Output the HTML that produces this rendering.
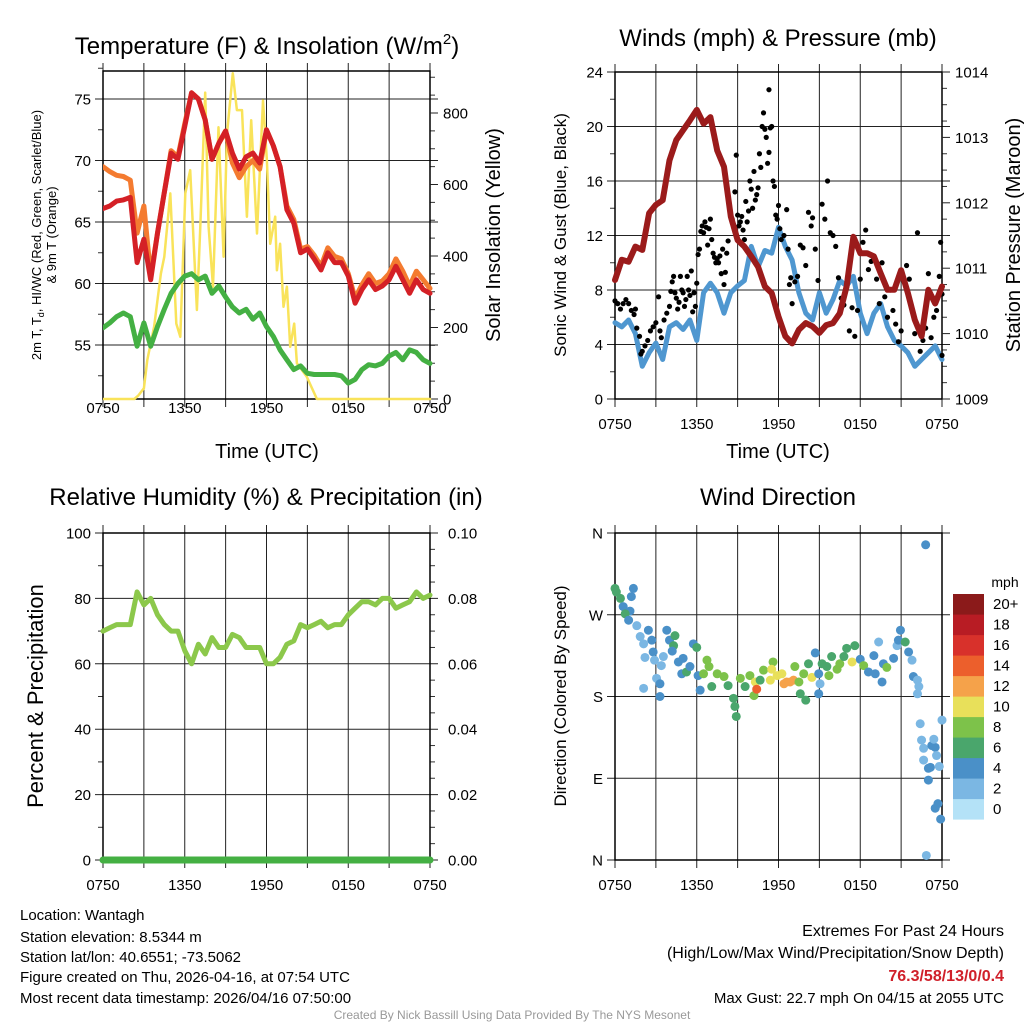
<!DOCTYPE html>
<html><head><meta charset="utf-8"><style>
html,body{margin:0;padding:0;background:#fff;}
svg{display:block;font-family:"Liberation Sans",Arial,sans-serif;}
</style></head><body>
<svg id="chart" width="1024" height="1024" viewBox="0 0 1024 1024" xmlns="http://www.w3.org/2000/svg">
<g id="p1"></g>
<g id="p2"></g>
<g id="p3"></g>
<g id="p4"></g>
<text x="267" y="54" font-size="24" text-anchor="middle">Temperature (F) &amp; Insolation (W/m<tspan font-size="15" dy="-10">2</tspan><tspan dy="10">)</tspan></text>
<text x="778" y="46" font-size="24" text-anchor="middle">Winds (mph) &amp; Pressure (mb)</text>
<text x="266" y="505" font-size="24" text-anchor="middle">Relative Humidity (%) &amp; Precipitation (in)</text>
<text x="778" y="505" font-size="24" text-anchor="middle">Wind Direction</text>
<text x="267" y="458" font-size="20" text-anchor="middle">Time (UTC)</text>
<text x="778" y="458" font-size="20" text-anchor="middle">Time (UTC)</text>
<text transform="translate(41,235) rotate(-90)" font-size="13" text-anchor="middle">2m T, T<tspan font-size="9" dy="3">d</tspan><tspan dy="-3">, HI/WC (Red, Green, Scarlet/Blue)</tspan></text>
<text transform="translate(56,235) rotate(-90)" font-size="13" text-anchor="middle">&amp; 9m T (Orange)</text>
<text transform="translate(500,235) rotate(-90)" font-size="20" text-anchor="middle">Solar Insolation (Yellow)</text>
<text transform="translate(566,235) rotate(-90)" font-size="17" text-anchor="middle">Sonic Wind &amp; Gust (Blue, Black)</text>
<text transform="translate(1020,235) rotate(-90)" font-size="20" text-anchor="middle">Station Pressure (Maroon)</text>
<text transform="translate(43,696) rotate(-90)" font-size="22" text-anchor="middle">Percent &amp; Precipitation</text>
<text transform="translate(566,696) rotate(-90)" font-size="17" text-anchor="middle">Direction (Colored By Speed)</text>
<g font-size="15">
<text x="20" y="920">Location: Wantagh</text>
<text x="20" y="942">Station elevation: 8.5344 m</text>
<text x="20" y="962">Station lat/lon: 40.6551; -73.5062</text>
<text x="20" y="982">Figure created on Thu, 2026-04-16, at 07:54 UTC</text>
<text x="20" y="1003">Most recent data timestamp: 2026/04/16 07:50:00</text>
</g>
<g font-size="16" text-anchor="end">
<text x="1004" y="936">Extremes For Past 24 Hours</text>
<text x="1004" y="958">(High/Low/Max Wind/Precipitation/Snow Depth)</text>
<text x="1004" y="981" font-weight="bold" fill="#d0202a">76.3/58/13/0/0.4</text>
<text x="1004" y="1003" font-size="15">Max Gust: 22.7 mph On 04/15 at 2055 UTC</text>
</g>
<text x="512" y="1019" font-size="12" fill="#999" text-anchor="middle">Created By Nick Bassill Using Data Provided By The NYS Mesonet</text>
</svg>
<script>
const halfHours=[0,0.5,1,1.5,2,2.5,3,3.5,4,4.5,5,5.5,6,6.5,7,7.5,8,8.5,9,9.5,10,10.5,11,11.5,12,12.5,13,13.5,14,14.5,15,15.5,16,16.5,17,17.5,18,18.5,19,19.5,20,20.5,21,21.5,22,22.5,23,23.5,24];
const xTickLabels=["0750","1350","1950","0150","0750"];
const tempRed=[66.1,66.3,66.7,66.8,67.0,61.7,63.6,60.3,64.1,67.4,70.6,70.1,72.8,75.5,75.0,73.3,70.1,71.4,72.4,70.6,69.3,70.3,70.6,69.8,72.5,71.2,69.5,66.0,64.9,62.5,62.8,62.0,61.1,62.5,61.7,61.7,60.6,58.4,59.5,60.3,59.5,59.8,60.3,61.4,60.3,59.2,60.3,59.5,59.2];
const temp9m=[69.5,69.1,68.8,68.7,68.4,64.1,66.3,60.6,64.1,67.4,70.8,70.3,73.0,75.5,75.0,73.3,70.1,71.4,72.4,69.8,68.6,69.5,70.0,69.3,72.5,71.2,69.5,66.3,65.2,62.8,63.0,62.3,61.4,62.9,62.2,62.0,60.8,58.8,59.9,60.8,60.0,60.2,60.8,62.0,61.0,59.8,61.0,60.3,59.6];
const dewpoint=[56.4,56.8,57.3,57.6,57.3,54.9,56.8,54.9,56.5,57.9,59.2,60.0,60.6,60.8,60.3,60.6,59.2,59.8,58.9,58.1,57.6,57.9,57.1,57.6,56.5,55.7,54.6,53.8,53.0,53.3,52.7,52.6,52.6,52.6,52.6,52.5,51.9,52.2,53.0,53.4,53.3,53.5,54.1,54.4,53.8,54.6,54.4,53.8,53.5];
const solarHours=[0,2.3,2.6,3,3.25,3.5,3.75,4,4.25,4.5,4.94,5.38,5.67,6.04,6.4,6.89,7.14,7.5,7.75,8.07,8.48,8.85,9.1,9.53,9.83,10.2,10.56,10.88,11.3,11.74,12.03,12.27,12.64,12.76,13,13.25,13.5,13.74,14.03,14.23,14.96,15.7,24];
const solarVals=[0,0,10,30,109,156,202,277,351,398,575,211,174,575,640,249,482,857,482,314,760,398,742,911,808,808,510,780,463,835,667,434,510,360,434,258,314,146,211,100,62,0,0];
const tempTicks=[55,60,65,70,75];
const solarTicks=[0,200,400,600,800];
const windSpeed=[5.6,5.3,5.8,4.8,2.4,3.4,4.1,2.9,5.3,5.6,5.1,5.8,4.3,7.8,8.5,7.8,6.3,7.8,8.3,8.7,11.2,9.7,10.9,10.7,12.6,11.2,10.2,7.8,6.3,5.8,7.8,6.3,7.3,8.7,8.3,9.0,6.3,4.8,6.3,7.0,5.3,4.3,3.9,3.4,2.4,2.9,3.4,3.9,2.9];
const pressure=[1010.82,1011.13,1011.10,1011.33,1011.28,1011.84,1011.97,1012.04,1012.65,1012.96,1013.11,1013.26,1013.42,1013.21,1013.31,1012.80,1012.55,1011.79,1011.43,1011.33,1011.18,1011.02,1010.72,1010.62,1010.26,1009.96,1009.85,1010.06,1010.16,1010.11,1010.01,1010.13,1010.16,1010.31,1010.72,1011.48,1011.23,1011.23,1011.18,1010.92,1010.67,1010.67,1010.97,1010.62,1010.21,1009.96,1010.67,1010.46,1010.72];
const gustHours=[0,0.2,0.4,0.6,0.8,1,1.2,1.4,1.5,1.6,1.8,1.9,2.0,2.2,2.4,2.6,2.8,3.0,3.2,3.3,3.4,3.6,3.8,4.0,4.1,4.2,4.3,4.4,4.5,4.6,4.7,4.8,4.9,5.0,5.1,5.2,5.3,5.4,5.5,5.6,5.7,5.8,5.9,6.0,6.1,6.2,6.3,6.4,6.5,6.6,6.7,6.8,6.9,7.0,7.1,7.2,7.3,7.4,7.5,7.6,7.7,7.8,7.9,8.0,8.1,8.2,8.3,8.5,8.6,8.7,8.8,8.9,9.0,9.1,9.2,9.3,9.4,9.5,9.6,9.7,9.8,9.9,10.0,10.1,10.2,10.3,10.4,10.5,10.6,10.7,10.8,10.9,11.0,11.1,11.2,11.3,11.3,11.4,11.5,11.6,11.7,11.8,11.9,12.0,12.1,12.2,12.4,12.6,12.7,12.8,12.9,13.0,13.2,13.4,13.6,13.8,14.0,14.2,14.4,14.5,14.7,14.9,15.2,15.4,15.6,15.8,16.0,16.2,16.4,16.6,16.8,17.0,17.2,17.4,17.6,17.8,18.0,18.2,18.4,18.6,18.8,19.0,19.2,19.4,19.6,19.8,20.0,20.2,20.4,20.6,20.8,21.0,21.4,21.6,22.0,22.2,22.4,22.6,22.8,23.0,23.2,23.4,23.6,23.8,23.9,24.0,24.0];
const gustVals=[7.2,7.0,6.6,7.0,7.3,7.0,6.5,6.2,6.6,5.2,4.6,3.3,3.5,3.9,4.3,5.0,5.3,5.6,7.5,5.0,4.5,5.8,6.3,6.8,7.9,8.6,9.0,7.8,7.4,6.6,7.1,9.0,8.0,7.8,6.8,7.3,9.0,8.0,7.6,9.4,6.4,7.8,6.8,8.5,10.6,11.0,12.3,12.7,12.2,13.0,12.6,11.3,12.5,13.2,11.7,10.7,10.4,10.0,10.3,10.0,10.5,9.2,11.0,8.4,9.3,10.7,11.6,13.4,13.2,12.8,15.2,17.9,13.5,12.7,13.0,13.4,12.4,11.7,14.5,13.0,13.8,16.0,15.4,14.0,16.7,14.6,15.0,15.5,18.0,17.0,20.0,21.0,19.8,19.2,17.3,18.1,22.7,19.9,20.0,16.0,15.6,13.5,13.2,14.2,12.5,11.7,12.0,13.9,11.0,8.4,8.9,7.0,8.6,9.0,11.3,11.1,9.8,13.7,12.7,13.3,11.0,8.7,14.3,13.2,16.0,12.2,12.0,11.2,8.9,7.4,6.9,8.3,5.0,6.7,4.6,6.5,8.8,11.5,12.4,9.5,10.1,10.3,8.8,7.0,10.0,7.5,6.0,8.0,6.5,5.5,4.2,5.0,9.8,8.8,4.8,12.2,3.5,4.3,5.2,9.2,4.5,6.0,6.5,9.0,11.5,7.7,3.2];
const windTicks=[0,4,8,12,16,20,24];
const pressureTicks=[1009,1010,1011,1012,1013,1014];
const humidity=[70,71,72,72,72,82,78,80,75,72,70,70,64,60,66,63,68,65,65,69,68,65,65,65,60,60,62,66,67,72,71,72,73,71,72,72,75,77,79,79,78,80,80,77,78,79,82,80,81];
const precip=[0,0,0,0,0,0,0,0,0,0,0,0,0,0,0,0,0,0,0,0,0,0,0,0,0,0,0,0,0,0,0,0,0,0,0,0,0,0,0,0,0,0,0,0,0,0,0,0,0];
const rhTicks=[0,20,40,60,80,100];
const precipTickLabels=["0.00","0.02","0.04","0.06","0.08","0.10"];
const dirHours=[0,0.1,0.4,1.35,1.2,0.6,1.1,0.75,1.0,1.6,1.85,2.1,2.45,2.7,2.8,2.2,2.9,3.05,3.3,2.1,3.3,3.4,3.55,3.8,4.0,4.3,4.4,4.2,4.65,5.0,4.9,5.25,5.5,5.75,6.0,6.1,6.25,6.5,6.75,6.9,7.1,7.5,8.0,8.3,8.7,8.8,8.9,9.2,9.55,9.9,10.2,10.3,10.4,10.65,10.9,11.4,11.6,11.5,11.9,12.25,12.4,12.6,12.85,13.1,13.2,13.5,13.6,14.0,13.85,14.2,14.45,14.7,14.95,14.95,15.05,15.2,15.55,15.7,15.9,16.3,16.5,16.8,17.0,17.4,17.6,18.0,18.25,18.6,19.0,19.1,19.35,19.6,19.7,19.95,20.45,20.7,20.95,20.8,21.3,21.55,21.8,21.9,22.2,22.3,22.2,22.8,22.4,22.5,22.65,22.65,23.0,23.15,23.0,23.25,23.5,23.4,23.6,23.8,24.0,23.5,23.7,23.9,22.85];
const dirDeg=[299,295,288,299,290,279,274,271,264,258,246,238,253,242,229,223,220,200,194,189,180,214,224,253,242,236,247,230,218,222,205,207,213,238,234,203,187,205,220,213,191,205,202,192,178,169,158,200,191,203,181,196,188,198,209,198,218,210,203,205,194,196,196,198,213,196,183,176,205,216,201,228,205,183,194,216,213,203,224,210,216,224,233,218,236,221,214,207,225,205,240,196,216,212,222,236,253,242,240,229,220,202,198,191,183,347,150,132,123,110,101,102,88,126,124,133,115,103,154,57,62,45,5];
const dirSpeed=[6,6,6,4,4,4,4,6,4,2,2,2,4,4,4,2,2,2,4,2,4,2,2,4,4,6,6,4,4,4,4,6,4,4,6,4,4,8,8,8,6,8,8,6,6,6,6,8,6,8,8,10,14,6,8,10,8,10,10,10,12,12,12,12,8,8,6,6,8,6,10,4,4,4,2,6,6,8,6,8,8,6,6,10,6,4,8,4,4,4,2,4,4,8,4,2,4,4,6,4,2,4,2,2,2,4,2,2,2,2,4,4,4,4,4,2,2,2,2,4,4,4,2];
const speedColors=["#b4e2f7","#7bb7e3","#4a90c8","#4aa66c","#7dc24a","#e8e05a","#f5a24a","#ec5f2c","#d8312b","#b81c24","#8b1a1a"];
const speedLabels=["0","2","4","6","8","10","12","14","16","18","20+"];
const dirLabels=["N","E","S","W","N"];

const NS="http://www.w3.org/2000/svg";
function mk(parent,tag,attrs){const e=document.createElementNS(NS,tag);for(const k in attrs)e.setAttribute(k,attrs[k]);parent.appendChild(e);return e;}
function txt(parent,x,y,s,size,anchor){const t=mk(parent,"text",{x:x,y:y,"font-size":size,"text-anchor":anchor});t.textContent=s;return t;}

function frame(g,x0,x1,y0,y1,yTickVals,yFn,yLabels,minorL,minorR,xLabY){
  for(let h=0;h<=24;h+=3){const x=x0+(x1-x0)*h/24;
    const l=mk(g,"line",{x1:x,x2:x,y1:y0-8,y2:y1+8,stroke:"#222","stroke-width":1});
    
    }
  yTickVals.forEach((v,i)=>{const y=yFn(v);
    const l=mk(g,"line",{x1:x0-8,x2:x1+8,y1:y,y2:y,stroke:"#222","stroke-width":1});
    
    
    if(yLabels){const t=txt(g,x0-12,y+5.5,yLabels[i],15,"end");
      
      }});
  (minorL||[]).forEach(y=>mk(g,"line",{x1:x0-5,x2:x0,y1:y,y2:y,stroke:"#333","stroke-width":1}));
  (minorR||[]).forEach(y=>mk(g,"line",{x1:x1,x2:x1+5,y1:y,y2:y,stroke:"#333","stroke-width":1}));
  const fr=mk(g,"rect",{x:x0,y:y0,width:x1-x0,height:y1-y0,fill:"none",stroke:"#000","stroke-width":1.5});
  
  
  xTickLabels.forEach((s,i)=>{const t=txt(g,x0+(x1-x0)*i/4,xLabY,s,15,"middle");
    
    });
}
function path(g,xs,ys,color,w,name){let d="";xs.forEach((x,i)=>{d+=(i?"L":"M")+x.toFixed(1)+","+ys[i].toFixed(1);});
  const p=mk(g,"path",{d:d,fill:"none",stroke:color,"stroke-width":w,"stroke-linejoin":"round","stroke-linecap":"round"});
  
  return p;}

// Panel 1
(function(){const g=document.getElementById("p1");const x0=103,x1=430,y0=71,y1=399;
 const xS=h=>x0+(x1-x0)*h/24, yT=v=>99+(75-v)*12.3, yS=v=>y1-v*0.3575;
 const mL=[],mR=[];for(let v=52.5;v<=77.5;v+=5)mL.push(yT(v));for(let v=50;v<=900;v+=50)if(v%200)mR.push(yS(v));
 frame(g,x0,x1,y0,y1,tempTicks,yT,tempTicks.map(String),mL,mR,413);
 solarTicks.forEach(v=>{mk(g,"line",{x1:x1,x2:x1+8,y1:yS(v),y2:yS(v),stroke:"#222"});
   const t=txt(g,x1+13,yS(v)+5.5,String(v),15,"start");
   
   });
 const cl=mk(g,"g",{"clip-path":"url(#c1)"});
 const cp=mk(document.getElementById("chart"),"clipPath",{id:"c1"});mk(cp,"rect",{x:x0,y:y0-6,width:x1-x0+3,height:y1-y0+8});
 path(cl,solarHours.map(xS),solarVals.map(yS),"#f9e35a",2.5,"solar-insolation-line");
 path(cl,halfHours.map(xS),dewpoint.map(yT),"#44b043",5,"dewpoint-line");
 path(cl,halfHours.map(xS),temp9m.map(yT),"#f47b30",5,"temp-9m-line");
 path(cl,halfHours.map(xS),tempRed.map(yT),"#d42026",5,"temp-2m-line");
})();
// Panel 2
(function(){const g=document.getElementById("p2");const x0=615,x1=942,y0=72,y1=399;
 const xS=h=>x0+(x1-x0)*h/24, yW=v=>y1-v*13.625, yP=v=>y1-(v-1009)*65.4;
 const mL=[],mR=[];for(let v=2;v<24;v+=4)mL.push(yW(v));for(let v=1009.25;v<1014;v+=0.25)if(Math.abs(v-Math.round(v))>0.01)mR.push(yP(v));
 frame(g,x0,x1,y0,y1,windTicks,yW,windTicks.map(String),mL,mR,429);
 pressureTicks.forEach(v=>{mk(g,"line",{x1:x1,x2:x1+8,y1:yP(v),y2:yP(v),stroke:"#222"});
   const t=txt(g,x1+13,yP(v)+5.5,String(v),15,"start");
   
   });
 path(g,halfHours.map(xS),windSpeed.map(yW),"#4f97d0",5,"sonic-wind-line");
 gustHours.forEach((h,i)=>{const c=mk(g,"circle",{cx:xS(h),cy:yW(gustVals[i]),r:2.6,fill:"#000"});
   
   });
 path(g,halfHours.map(xS),pressure.map(yP),"#9b1b1b",6,"pressure-line");
})();
// Panel 3
(function(){const g=document.getElementById("p3");const x0=103,x1=430,y0=533,y1=860;
 const xS=h=>x0+(x1-x0)*h/24, yR=v=>y1-v*3.27;
 const mL=[],mR=[];for(let v=10;v<100;v+=20)mL.push(yR(v));for(let v=5;v<100;v+=5)if(v%20)mR.push(yR(v));
 frame(g,x0,x1,y0,y1,rhTicks,yR,rhTicks.map(String),mL,mR,890);
 rhTicks.forEach((v,i)=>{const t=txt(g,x1+18,yR(v)+5.5,precipTickLabels[i],15,"start");
   
   });
 path(g,halfHours.map(xS),humidity.map(yR),"#8cc84b",5,"humidity-line");
 path(g,halfHours.map(xS),precip.map(v=>yR(v*1000)),"#44b043",7,"precipitation-line");
})();
// Panel 4
(function(){const g=document.getElementById("p4");const x0=615,x1=942,y0=533,y1=860;
 const xS=h=>x0+(x1-x0)*h/24, yD=d=>y1-d*327/360;
 frame(g,x0,x1,y0,y1,[0,90,180,270,360],yD,dirLabels,[],[],890);
 dirHours.forEach((h,i)=>{const c=mk(g,"circle",{cx:xS(h),cy:yD(dirDeg[i]),r:4.5,fill:speedColors[Math.min(10,Math.round(dirSpeed[i]/2))]});
   
   });
 const lg=mk(g,"g",{});
 
 
 txt(lg,1005,587,"mph",14,"middle");
 speedColors.forEach((c,i)=>{const y=594+(10-i)*20.5;
   mk(lg,"rect",{x:953,y:y,width:31,height:20.6,fill:c});
   const t=txt(lg,993,y+15,speedLabels[i],15,"start");
   
   });
})();
</script>
</body></html>
